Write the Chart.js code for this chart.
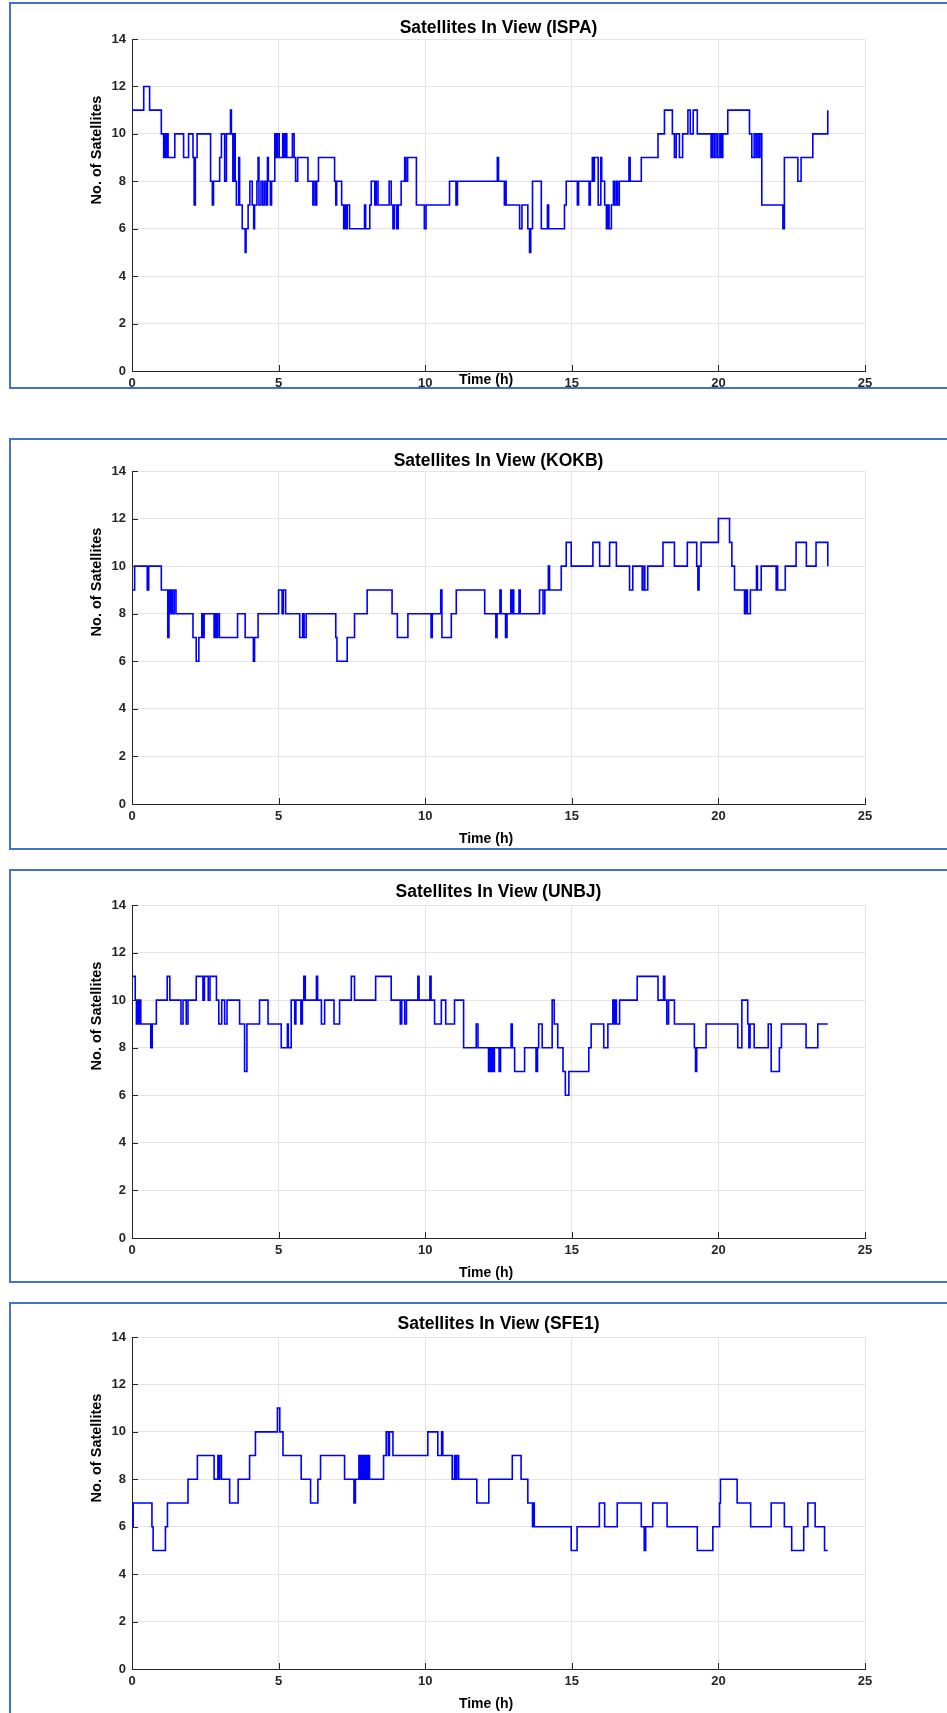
<!DOCTYPE html>
<html>
<head>
<meta charset="utf-8">
<script src="https://cdn.jsdelivr.net/npm/chart.js@4.4.1/dist/chart.umd.min.js"></script>
<style>
  html, body { margin: 0; padding: 0; background: #fff; }
  body { width: 947px; height: 1713px; position: relative; overflow: hidden; }
  .holder { position: absolute; left: 0; width: 947px; }
  .frame { position: absolute; left: 9px; width: 950px; box-sizing: border-box; border: 2px solid #4472c4; pointer-events: none; }
</style>
</head>
<body>
<script>
// tick labels
const xTicks = [0, 5, 10, 15, 20, 25];
const yTicks = [0, 2, 4, 6, 8, 10, 12, 14];

// step breakpoints: time (h) where the count changes, and the new count
const ispaTime = [0, 0.40, 0.60, 1.00, 1.08, 1.12, 1.16, 1.20, 1.23, 1.46, 1.76, 1.93, 2.08, 2.12, 2.16, 2.22, 2.68, 2.74, 2.78, 2.99, 3.05, 3.16, 3.22, 3.36, 3.39, 3.44, 3.48, 3.52, 3.56, 3.64, 3.67, 3.76, 3.86, 3.89, 3.96, 4.02, 4.10, 4.15, 4.18, 4.26, 4.30, 4.33, 4.40, 4.46, 4.52, 4.58, 4.62, 4.65, 4.72, 4.76, 4.87, 4.92, 4.96, 5.02, 5.14, 5.19, 5.24, 5.28, 5.47, 5.53, 5.58, 5.65, 6.00, 6.17, 6.20, 6.26, 6.30, 6.36, 6.91, 6.95, 6.98, 7.15, 7.22, 7.26, 7.30, 7.34, 7.42, 7.93, 7.97, 8.11, 8.16, 8.28, 8.33, 8.39, 8.77, 8.84, 8.90, 8.95, 9.03, 9.08, 9.18, 9.30, 9.34, 9.40, 9.70, 9.97, 10.03, 10.83, 11.05, 11.10, 12.46, 12.50, 12.70, 12.73, 12.76, 13.22, 13.30, 13.50, 13.56, 13.60, 13.66, 13.96, 14.17, 14.21, 14.75, 14.81, 15.19, 15.23, 15.59, 15.63, 15.70, 15.74, 15.77, 15.90, 15.99, 16.02, 16.12, 16.18, 16.23, 16.27, 16.35, 16.42, 16.46, 16.52, 16.56, 16.62, 16.95, 16.99, 17.37, 17.94, 18.16, 18.43, 18.50, 18.56, 18.67, 18.78, 18.96, 19.04, 19.14, 19.28, 19.75, 19.80, 19.86, 19.92, 19.98, 20.05, 20.10, 20.15, 20.32, 21.06, 21.14, 21.22, 21.28, 21.32, 21.38, 21.42, 21.48, 22.20, 22.25, 22.71, 22.82, 23.22, 23.73];
const ispaSats = [11, 12, 11, 10, 9, 10, 9, 10, 9, 10, 9, 10, 9, 7, 9, 10, 8, 7, 8, 9, 10, 8, 10, 11, 10, 8, 10, 8, 7, 9, 7, 6, 5, 6, 7, 8, 7, 6, 7, 8, 9, 7, 8, 7, 8, 7, 9, 8, 7, 8, 10, 9, 10, 9, 10, 9, 10, 9, 10, 9, 8, 9, 8, 7, 8, 7, 8, 9, 8, 7, 8, 7, 6, 7, 6, 7, 6, 7, 6, 7, 8, 7, 8, 7, 8, 7, 6, 7, 6, 7, 8, 9, 8, 9, 7, 6, 7, 8, 7, 8, 9, 8, 7, 8, 7, 6, 7, 6, 5, 6, 8, 6, 7, 6, 7, 8, 7, 8, 7, 8, 9, 8, 9, 7, 9, 8, 7, 6, 7, 6, 7, 8, 7, 8, 7, 8, 9, 8, 9, 10, 11, 10, 9, 10, 9, 10, 11, 10, 11, 10, 9, 10, 9, 10, 9, 10, 9, 10, 11, 10, 9, 10, 9, 10, 9, 10, 7, 6, 9, 8, 9, 10, 11];

const kokbTime = [0, 0.09, 0.52, 0.57, 1.00, 1.22, 1.26, 1.30, 1.34, 1.38, 1.44, 1.50, 2.08, 2.19, 2.28, 2.38, 2.42, 2.46, 2.80, 2.84, 2.88, 2.92, 2.98, 3.60, 3.86, 4.14, 4.18, 4.30, 5.00, 5.12, 5.16, 5.24, 5.72, 5.82, 5.87, 5.94, 6.95, 6.99, 7.34, 7.59, 8.02, 8.87, 9.05, 9.41, 10.20, 10.24, 10.53, 10.57, 10.89, 11.06, 12.03, 12.41, 12.45, 12.55, 12.59, 12.74, 12.79, 12.92, 12.95, 12.98, 13.02, 13.20, 13.24, 13.90, 14.02, 14.08, 14.20, 14.24, 14.64, 14.81, 14.98, 15.72, 15.95, 16.29, 16.52, 16.97, 17.08, 17.40, 17.46, 17.49, 17.59, 18.11, 18.50, 18.94, 19.26, 19.30, 19.34, 19.41, 20.00, 20.38, 20.46, 20.55, 20.89, 20.94, 20.99, 21.09, 21.30, 21.33, 21.46, 21.97, 22.00, 22.02, 22.28, 22.65, 23.00, 23.33, 23.73];
const kokbSats = [9, 10, 9, 10, 9, 7, 9, 8, 9, 8, 9, 8, 7, 6, 7, 8, 7, 8, 7, 8, 7, 8, 7, 8, 7, 6, 7, 8, 9, 8, 9, 8, 7, 8, 7, 8, 7, 6, 7, 8, 9, 8, 7, 8, 7, 8, 9, 7, 8, 9, 8, 7, 8, 9, 8, 7, 8, 9, 8, 9, 8, 9, 8, 9, 8, 9, 10, 9, 10, 11, 10, 11, 10, 11, 10, 9, 10, 9, 10, 9, 10, 11, 10, 11, 10, 9, 10, 11, 12, 11, 10, 9, 8, 9, 8, 9, 10, 9, 10, 9, 10, 9, 10, 11, 10, 11, 10];

const unbjTime = [0, 0.11, 0.15, 0.19, 0.23, 0.27, 0.30, 0.64, 0.69, 0.83, 1.20, 1.29, 1.67, 1.74, 1.85, 1.91, 2.19, 2.42, 2.47, 2.60, 2.66, 2.88, 2.96, 3.06, 3.16, 3.24, 3.67, 3.84, 3.92, 4.35, 4.64, 5.09, 5.30, 5.33, 5.43, 5.55, 5.59, 5.76, 5.81, 5.86, 5.91, 6.29, 6.33, 6.46, 6.57, 6.89, 7.08, 7.48, 7.59, 8.31, 8.84, 9.15, 9.20, 9.30, 9.36, 9.75, 9.79, 10.16, 10.20, 10.32, 10.55, 10.70, 11.00, 11.31, 11.74, 11.80, 12.16, 12.20, 12.24, 12.28, 12.32, 12.36, 12.52, 12.57, 12.93, 12.97, 13.05, 13.39, 13.78, 13.83, 13.87, 13.99, 14.33, 14.40, 14.52, 14.70, 14.78, 14.90, 15.58, 15.66, 16.09, 16.23, 16.40, 16.44, 16.48, 16.52, 16.63, 17.23, 17.94, 18.13, 18.17, 18.24, 18.30, 18.50, 19.18, 19.22, 19.26, 19.58, 20.66, 20.80, 21.00, 21.04, 21.08, 21.22, 21.70, 21.80, 22.08, 22.15, 22.99, 23.39, 23.73];
const unbjSats = [11, 10, 9, 10, 9, 10, 9, 8, 9, 10, 11, 10, 9, 10, 9, 10, 11, 10, 11, 10, 11, 10, 9, 10, 9, 10, 9, 7, 9, 10, 9, 8, 9, 8, 10, 9, 10, 9, 10, 11, 10, 11, 10, 9, 10, 9, 10, 11, 10, 11, 10, 9, 10, 9, 10, 11, 10, 11, 10, 9, 10, 9, 10, 8, 9, 8, 7, 8, 7, 8, 7, 8, 7, 8, 9, 8, 7, 8, 7, 8, 9, 8, 10, 9, 8, 7, 6, 7, 8, 9, 8, 9, 10, 9, 10, 9, 10, 11, 10, 11, 10, 9, 10, 9, 8, 7, 8, 9, 8, 10, 9, 8, 9, 8, 9, 7, 8, 9, 8, 9, 9];

const sfe1Time = [0, 0.04, 0.68, 0.72, 1.14, 1.21, 1.91, 2.23, 2.80, 2.93, 2.96, 2.99, 3.05, 3.33, 3.62, 4.01, 4.21, 4.96, 5.04, 5.15, 5.77, 6.09, 6.34, 6.43, 7.25, 7.57, 7.62, 7.74, 7.78, 7.82, 7.86, 7.90, 7.94, 7.98, 8.02, 8.06, 8.10, 8.58, 8.67, 8.74, 8.78, 8.90, 10.09, 10.43, 10.56, 10.60, 10.92, 11.00, 11.04, 11.08, 11.14, 11.76, 12.17, 12.97, 13.27, 13.50, 13.66, 13.69, 13.72, 14.98, 15.18, 15.94, 16.12, 16.55, 17.37, 17.47, 17.52, 17.76, 18.25, 19.28, 19.81, 20.04, 20.07, 20.64, 21.10, 21.80, 22.25, 22.50, 22.91, 23.05, 23.30, 23.62, 23.73];
const sfe1Sats = [6, 7, 6, 5, 6, 7, 8, 9, 8, 9, 8, 9, 8, 7, 8, 9, 10, 11, 10, 9, 8, 7, 8, 9, 8, 7, 8, 9, 8, 9, 8, 9, 8, 9, 8, 9, 8, 9, 10, 9, 10, 9, 10, 9, 10, 9, 8, 9, 8, 9, 8, 7, 8, 9, 8, 7, 6, 7, 6, 5, 6, 7, 6, 7, 6, 5, 6, 7, 6, 5, 6, 7, 8, 7, 6, 7, 6, 5, 6, 7, 6, 5, 5];

// page layout of the four framed plots (page pixels)
const panels = [
    { code: 'ISPA', time: ispaTime, sats: ispaSats, boxTop: 2,    boxBottom: 389,  plotTop: 39,   plotBottom: 371,  titleY: 28,   labelY: 380 },
    { code: 'KOKB', time: kokbTime, sats: kokbSats, boxTop: 438,  boxBottom: 850,  plotTop: 471,  plotBottom: 804,  titleY: 461,  labelY: 839 },
    { code: 'UNBJ', time: unbjTime, sats: unbjSats, boxTop: 869,  boxBottom: 1283, plotTop: 905,  plotBottom: 1238, titleY: 892,  labelY: 1273 },
    { code: 'SFE1', time: sfe1Time, sats: sfe1Sats, boxTop: 1302, boxBottom: 1730, plotTop: 1337, plotBottom: 1669, titleY: 1324, labelY: 1704 }
];

const FONT = "'Liberation Sans', Arial, Helvetica, sans-serif";
const AXIS = '#262626';
const GRID = '#e4e4e4';
const PLOT_LEFT = 132;
const PLOT_RIGHT = 865;

Chart.defaults.font.family = FONT;
Chart.defaults.color = AXIS;

// MATLAB style ticks that point into the axes
const innerTicks = {
    id: 'innerTicks',
    afterDatasetsDraw(chart) {
        const { ctx, chartArea: a, scales: { x, y } } = chart;
        ctx.save();
        ctx.strokeStyle = AXIS;
        ctx.lineWidth = 1;
        ctx.beginPath();
        x.ticks.forEach(t => {
            const px = Math.round(x.getPixelForValue(t.value)) + 0.5;
            ctx.moveTo(px, a.bottom);
            ctx.lineTo(px, a.bottom - 6);
        });
        y.ticks.forEach(t => {
            const py = Math.round(y.getPixelForValue(t.value)) + 0.5;
            ctx.moveTo(a.left, py);
            ctx.lineTo(a.left + 6, py);
        });
        ctx.stroke();
        ctx.restore();
    }
};

// axis labels, placed where the original figure has them
const axisLabels = {
    id: 'axisLabels',
    afterDraw(chart, args, opts) {
        const { ctx, chartArea: a } = chart;
        ctx.save();
        ctx.fillStyle = '#000';
        ctx.textAlign = 'center';
        ctx.textBaseline = 'middle';
        ctx.font = 'bold ' + opts.xSize + 'px ' + FONT;
        ctx.fillText(opts.xText, opts.xCenter, opts.xY);
        ctx.font = 'bold ' + opts.ySize + 'px ' + FONT;
        ctx.translate(opts.yX, a.top + opts.yOffset);
        ctx.rotate(-Math.PI / 2);
        ctx.fillText(opts.yText, 0, 0);
        ctx.restore();
    }
};

function makeChart(p) {
    const extra = 12;
    const h = p.boxBottom - p.boxTop + extra;

    const holder = document.createElement('div');
    holder.className = 'holder';
    holder.style.top = p.boxTop + 'px';
    holder.style.height = h + 'px';
    const canvas = document.createElement('canvas');
    canvas.width = 947;
    canvas.height = h;
    canvas.style.width = '947px';
    canvas.style.height = h + 'px';
    holder.appendChild(canvas);
    document.body.appendChild(holder);

    const frame = document.createElement('div');
    frame.className = 'frame';
    frame.style.top = p.boxTop + 'px';
    frame.style.height = (p.boxBottom - p.boxTop) + 'px';
    document.body.appendChild(frame);

    const titleSize = 17.5;
    const titleLH = titleSize * 1.2;
    const tPadTop = (p.titleY - p.boxTop) - titleLH / 2;
    const tPadBottom = (p.plotTop - p.boxTop) - tPadTop - titleLH;
    const xHeight = h - (p.plotBottom - p.boxTop);

    new Chart(canvas, {
        type: 'line',
        data: {
            datasets: [{
                data: p.time.map((t, i) => ({ x: t, y: p.sats[i] })),
                stepped: true,
                borderColor: '#0000ff',
                borderWidth: 1.6,
                pointRadius: 0,
                fill: false
            }]
        },
        options: {
            responsive: false,
            animation: false,
            events: [],
            layout: { padding: { left: 0, right: 947 - PLOT_RIGHT, top: 0, bottom: 0 } },
            plugins: {
                legend: { display: false },
                tooltip: { enabled: false },
                title: {
                    display: true,
                    fullSize: false, // centred over the axes only
                    text: 'Satellites In View (' + p.code + ')',
                    color: '#000',
                    font: { size: titleSize, weight: 'bold' },
                    padding: { top: tPadTop, bottom: tPadBottom }
                },
                axisLabels: {
                    xSize: 14,
                    ySize: 14.5,
                    xText: 'Time (h)',
                    xCenter: 486,
                    xY: p.labelY - p.boxTop,
                    yText: 'No. of Satellites',
                    yX: 97,
                    yOffset: 111
                }
            },
            scales: {
                x: {
                    type: 'linear',
                    min: 0,
                    max: 25,
                    afterBuildTicks: s => { s.ticks = xTicks.map(v => ({ value: v })); },
                    afterFit: s => { s.height = xHeight; },
                    ticks: { color: AXIS, font: { size: 13, weight: 'bold' }, padding: 5, maxRotation: 0 },
                    grid: { color: GRID, drawTicks: false },
                    border: { color: AXIS, width: 1 }
                },
                y: {
                    type: 'linear',
                    min: 0,
                    max: 14,
                    afterBuildTicks: s => { s.ticks = yTicks.map(v => ({ value: v })); },
                    afterFit: s => { s.width = PLOT_LEFT; },
                    ticks: { color: AXIS, font: { size: 13, weight: 'bold' }, padding: 6 },
                    grid: { color: GRID, drawTicks: false },
                    border: { color: AXIS, width: 1 }
                }
            }
        },
        plugins: [innerTicks, axisLabels]
    });
}

panels.forEach(makeChart);
</script>
</body>
</html>
